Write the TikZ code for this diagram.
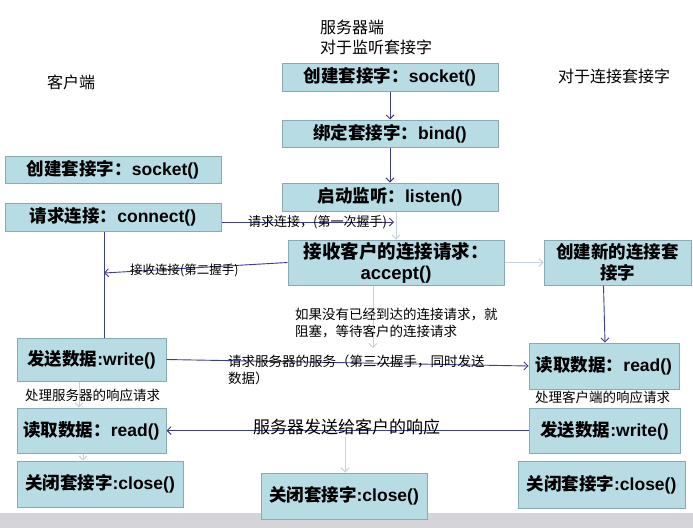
\documentclass[tikz,border=0pt]{standalone}
\usepackage{fontspec}
\setmainfont{Liberation Sans}
\newfontfamily\cjk{Noto Sans CJK SC}
\usetikzlibrary{arrows.meta}
\definecolor{boxfill}{HTML}{B8DCE4}
\definecolor{boxline}{HTML}{8AAAB2}
\definecolor{darkline}{HTML}{3D3D8F}
\definecolor{lightline}{HTML}{C5D6DA}
\definecolor{band}{HTML}{D4D4D9}
\tikzset{
  box/.style={draw=boxline, fill=boxfill, line width=1pt, inner sep=0pt, align=center,
    font=\bfseries\fontsize{17.5}{21}\selectfont},
  dk/.style={draw=darkline, line width=0.9pt, -{Straight Barb[length=4pt,width=8pt]}},
  dkplain/.style={draw=darkline, line width=0.9pt},
  lt/.style={draw=lightline, line width=0.9pt, -{Straight Barb[length=4pt,width=8pt]}},
  lbl/.style={anchor=west, inner sep=0pt, align=left, font=\cjk\fontsize{13.5}{16.5}\selectfont},
  title/.style={anchor=west, inner sep=0pt, align=left, font=\cjk\fontsize{16}{20}\selectfont},
}
\begin{document}
\begin{tikzpicture}[x=1pt,y=-1pt]
\useasboundingbox (0,0) rectangle (693,528);
\fill[white] (0,0) rectangle (693,528);
\fill[band] (0,513) rectangle (693,528);

% server, listening socket
\node[box, minimum width=216pt, minimum height=28pt] (ssock) at (390,77) {{\cjk 创建套接字：}socket()};
\node[box, minimum width=216pt, minimum height=27pt] (sbind) at (390,133.5) {{\cjk 绑定套接字：}bind()};
\node[box, minimum width=216pt, minimum height=28pt] (slisten) at (390,197) {{\cjk 启动监听：}listen()};
\node[box, minimum width=216pt, minimum height=45pt, font=\bfseries\fontsize{18.5}{21}\selectfont] (saccept) at (396,262.5) {{\cjk 接收客户的连接请求：}\\accept()};
\node[box, minimum width=147pt, minimum height=45pt] (snew) at (617.5,262.5) {{\cjk 创建新的连接套}\\{\cjk 接字}};
\node[box, minimum width=166pt, minimum height=46pt] (sclose) at (344,496) {{\cjk 关闭套接字}:close()};

% client
\node[box, minimum width=216pt, minimum height=27pt] (csock) at (113,169.5) {{\cjk 创建套接字：}socket()};
\node[box, minimum width=216pt, minimum height=28pt] (cconn) at (113,217) {{\cjk 请求连接：}connect()};
\node[box, minimum width=149pt, minimum height=43pt] (cwrite) at (91.5,359.5) {{\cjk 发送数据}:write()};
\node[box, minimum width=149pt, minimum height=45pt] (cread) at (91.5,430.5) {{\cjk 读取数据：}read()};
\node[box, minimum width=166pt, minimum height=46pt] (cclose) at (100,484) {{\cjk 关闭套接字}:close()};

% connection socket
\node[box, minimum width=150pt, minimum height=46pt] (rread) at (604,366) {{\cjk 读取数据：}read()};
\node[box, minimum width=151pt, minimum height=45pt] (rwrite) at (604.5,430.5) {{\cjk 发送数据}:write()};
\node[box, minimum width=167pt, minimum height=47pt] (rclose) at (601.5,484.5) {{\cjk 关闭套接字}:close()};

% helper coordinates
\coordinate (h1) at (394,222);
\coordinate (v1) at (104,273);
\coordinate (w1) at (373,348);
\coordinate (w2) at (345,437);

% connectors
\draw[dk] (ssock) -- (sbind);
\draw[dk] (sbind) -- (slisten);
\draw[dk] (cconn.east |- h1) -- (h1);
\draw[lt] (slisten.south -| saccept) -- (saccept.north);
\draw[dk] (saccept.west) -- (v1);
\draw[dkplain] (cconn.south -| v1) -- (cwrite.north -| v1);
\draw[lt] (saccept.east) -- (snew.west);
\draw[dk] ([xshift=-14pt]snew.south) -- ([xshift=1pt]rread.north);
\draw[lt] (saccept.south -| w1) -- (w1);
\draw[dk] (cwrite.east) -- (rread.west);
\draw[dk] (rwrite.west) -- (cread.east);
\draw[lt] (w2) -- (sclose.north -| w2);
\draw[lt] ([xshift=-12.5pt]cwrite.south) -- ([xshift=-12.5pt]cread.north);
\draw[lt] ([xshift=-8.5pt]cread.south) -- ([xshift=-17pt]cclose.north);

% titles
\node[title] (tserver) at (320,27) {服务器端};
\node[title] (tlisten) at (320,47) {对于监听套接字};
\node[title] (tclient) at (47,82) {客户端};
\node[title] (tconn) at (558,76) {对于连接套接字};

% labels
\node[lbl, font=\cjk\fontsize{13}{16}\selectfont] (l1) at (248,222) {请求连接，(第一次握手)};
\node[lbl, font=\cjk\fontsize{12.5}{15}\selectfont] (l2) at (130,270) {接收连接(第二握手)};
\node[lbl, anchor=north west] (l3) at (295,308) {如果没有已经到达的连接请求，就\\阻塞，等待客户的连接请求};
\node[lbl, anchor=north west] (l4) at (228,355) {请求服务器的服务（第三次握手，同时发送\\数据）};
\node[lbl] (l5) at (25,395) {处理服务器的响应请求};
\node[lbl] (l6) at (535,397) {处理客户端的响应请求};
\node[lbl, font=\cjk\fontsize{17}{20}\selectfont] (l7) at (253,427) {服务器发送给客户的响应};
\end{tikzpicture}
\end{document}
